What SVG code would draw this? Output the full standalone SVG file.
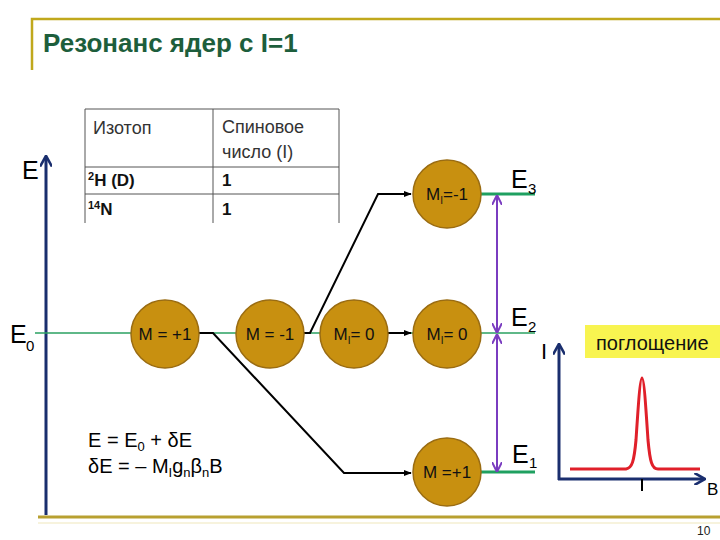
<svg xmlns="http://www.w3.org/2000/svg" width="720" height="540" viewBox="0 0 720 540">
<style>
text{font-family:"Liberation Sans",Arial,sans-serif}
.node circle{fill:#c89010;stroke:#9a6c12;stroke-width:1.5}
.node text{font-size:17px;fill:#111;text-anchor:middle}
.tbl{stroke:#555;stroke-width:1;fill:none}
.th{font-size:18px;fill:#333}
.tb{font-size:17px;font-weight:bold;fill:#111}
.lvl{font-size:25px;fill:#000}
.sub{font-size:15px;fill:#000}
.conn{stroke:#000;stroke-width:2;fill:none}
</style>
<defs>
<marker id="ah" viewBox="0 0 10 10" refX="9" refY="5" markerWidth="4" markerHeight="4" orient="auto"><path d="M0,1 L10,5 L0,9 z" fill="#000"/></marker>
<marker id="pa" viewBox="0 0 10 10" refX="9" refY="5" markerWidth="5" markerHeight="5" orient="auto-start-reverse"><path d="M0,0 L10,5 L0,10" fill="none" stroke="#7a3cc0" stroke-width="2"/></marker>
<marker id="na" viewBox="0 0 10 10" refX="8" refY="5" markerWidth="4" markerHeight="4" orient="auto"><path d="M0,0 L9,5 L0,10" fill="none" stroke="#1a2e6e" stroke-width="2.2"/></marker>
</defs>
<rect width="720" height="540" fill="#fff"/>
<!-- frame -->
<path d="M32,70 V19 H720" stroke="#c0a81c" stroke-width="2.5" fill="none"/>
<line x1="38" y1="517" x2="720" y2="517" stroke="#b8a030" stroke-width="3"/>
<line x1="38" y1="523" x2="720" y2="523" stroke="#f4efd2" stroke-width="1.5"/>
<text x="43" y="52" font-size="26" font-weight="bold" fill="#1d5e3c">Резонанс ядер с I=1</text>
<text x="697" y="535" font-size="12" fill="#222">10</text>
<!-- table -->
<g id="table">
<path class="tbl" d="M85,109 H339 M85,167 H339 M85,194 H339 M85,109 V223 M213,109 V223 M339,109 V223"/>
<text class="th" x="93" y="134">Изотоп</text>
<text class="th" x="222" y="133">Спиновое</text>
<text class="th" x="222" y="158">число (I)</text>
<text class="tb" x="88" y="186"><tspan font-size="11" dy="-6">2</tspan><tspan dy="6">H (D)</tspan></text>
<text class="tb" x="222" y="186">1</text>
<text class="tb" x="88" y="215"><tspan font-size="11" dy="-6">14</tspan><tspan dy="6">N</tspan></text>
<text class="tb" x="222" y="215">1</text>
</g>
<!-- E axis -->
<g id="axis-E">
<line x1="46" y1="515" x2="46" y2="157" stroke="#1a2e6e" stroke-width="3" marker-end="url(#na)"/>
<text class="lvl" x="22" y="179">E</text>
<text class="lvl" x="10" y="343">E</text><text class="sub" x="26" y="351">0</text>
</g>
<!-- level lines -->
<g id="levels">
<line x1="35" y1="333" x2="535" y2="333" stroke="#2aa060" stroke-width="1.5"/>
<line x1="481" y1="194" x2="535" y2="194" stroke="#1fa060" stroke-width="3"/>
<line x1="481" y1="472" x2="535" y2="472" stroke="#1fa060" stroke-width="3"/>
<text class="lvl" x="511" y="188">E</text><text class="sub" x="528" y="194">3</text>
<text class="lvl" x="511" y="326">E</text><text class="sub" x="528" y="332">2</text>
<text class="lvl" x="512" y="463">E</text><text class="sub" x="529" y="468">1</text>
</g>
<!-- connectors -->
<g id="connectors">
<path class="conn" d="M199,333 H213 L344,473 H411" marker-end="url(#ah)"/>
<path class="conn" d="M304,333 H310 L378,194 H411" marker-end="url(#ah)"/>
<path class="conn" d="M387,333 H411" marker-end="url(#ah)"/>
<line x1="497" y1="196" x2="497" y2="332" stroke="#7a3cc0" stroke-width="2" marker-start="url(#pa)" marker-end="url(#pa)"/>
<line x1="497" y1="335" x2="497" y2="471" stroke="#7a3cc0" stroke-width="2" marker-start="url(#pa)" marker-end="url(#pa)"/>
</g>
<!-- nodes -->
<g id="n-plus1" class="node"><circle cx="165" cy="334" r="34"/><text x="165" y="340">M = +1</text></g>
<g id="n-minus1" class="node"><circle cx="270" cy="334" r="34"/><text x="270" y="340">M = -1</text></g>
<g id="n-zero-a" class="node"><circle cx="354" cy="334" r="34"/><text x="354" y="340">M<tspan font-size="10" dy="4">I</tspan><tspan dy="-4">= 0</tspan></text></g>
<g id="n-zero-b" class="node"><circle cx="447" cy="334" r="34"/><text x="447" y="340">M<tspan font-size="10" dy="4">I</tspan><tspan dy="-4">= 0</tspan></text></g>
<g id="n-top" class="node"><circle cx="447" cy="194" r="34"/><text x="447" y="200">M<tspan font-size="10" dy="4">I</tspan><tspan dy="-4">=-1</tspan></text></g>
<g id="n-bottom" class="node"><circle cx="447" cy="472" r="34"/><text x="447" y="478">M =+1</text></g>
<!-- equations -->
<g id="equations">
<text x="88" y="447" font-size="20">E = E<tspan font-size="13" dy="4">0</tspan><tspan dy="-4"> + δE</tspan></text>
<text x="88" y="473" font-size="20">δE = – M<tspan font-size="13" dy="4">I</tspan><tspan dy="-4">g</tspan><tspan font-size="13" dy="4">n</tspan><tspan dy="-4">β</tspan><tspan font-size="13" dy="4">n</tspan><tspan dy="-4">B</tspan></text>
</g>
<!-- absorption plot -->
<g id="spectrum">
<rect x="585" y="325" width="140" height="33" fill="#f8f450"/>
<text x="596" y="350" font-size="20" fill="#111">поглощение</text>
<text x="541" y="359" font-size="22" fill="#000">I</text>
<line x1="559" y1="480" x2="559" y2="345" stroke="#1a2e6e" stroke-width="3" marker-end="url(#na)"/>
<line x1="558" y1="479" x2="704" y2="479" stroke="#1a2e6e" stroke-width="3" marker-end="url(#na)"/>
<line x1="642" y1="479" x2="642" y2="491" stroke="#000" stroke-width="2"/>
<text x="707" y="495" font-size="17" fill="#000">B</text>
<path d="M570,469 H626 C632,468 634,462 636,440 C638,410 640,378 642,378 C644,378 646,410 648,440 C650,462 652,469 658,469 H700" fill="none" stroke="#e0202a" stroke-width="3"/>
</g>
</svg>
